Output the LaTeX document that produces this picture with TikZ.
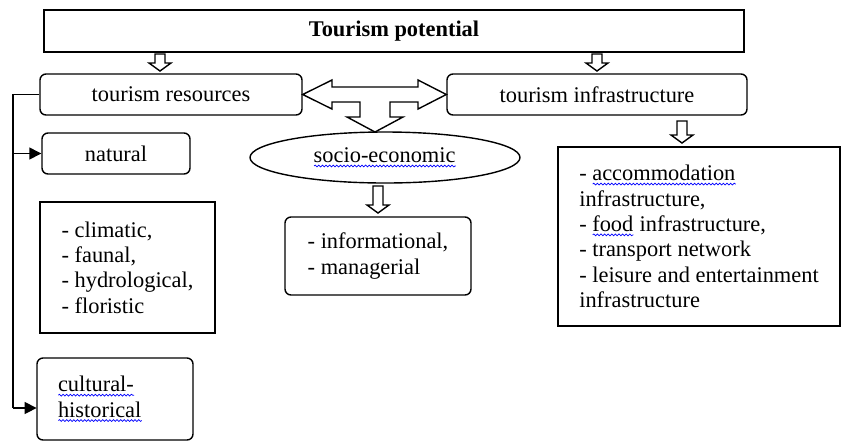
\documentclass[tikz,border=0pt]{standalone}
\usepackage{fontspec}
\setmainfont{Liberation Serif}
\usetikzlibrary{shapes.geometric,arrows.meta,decorations.pathmorphing}
\newlength\spellwd
\newcommand\spell[1]{\settowidth\spellwd{#1}\hbox{\rlap{#1}\tikz[baseline=0pt]
    \draw[blue,line width=0.35pt,sharp corners,decorate,decoration={snake,amplitude=0.45pt,segment length=1.8pt}]
        (0pt,-1.7pt) -- (\spellwd,-1.7pt);}}

\begin{document}
\begin{tikzpicture}[x=0.5pt,y=-0.5pt,line width=0.7pt,
    every node/.style={font=\fontsize{11.2}{12.7}\selectfont},
    box/.style={draw, inner sep=0pt},
    rbox/.style={draw, rounded corners=3pt, inner sep=0pt},
    hollow/.style={draw, fill=white},
    link/.style={-{Triangle[length=6pt,width=6pt]}},
    pics/hollowdown/.style={code={
        \draw[hollow] (-5,0) -- (5,0) -- (5,#1-8) -- (11,#1-8) -- (0,#1)
            -- (-11,#1-8) -- (-5,#1-8) -- cycle;}}]
  \useasboundingbox (0,0) rectangle (841,441);
  % top level
  \node[box, minimum width=350pt, minimum height=21pt,
        font=\bfseries\fontsize{11.2}{12.7}\selectfont] (potential) at (394,31) {Tourism potential};
  \node[rbox, minimum width=131pt, minimum height=20.5pt] (resources) at (171,94.5) {tourism resources};
  \node[rbox, minimum width=150pt, minimum height=20.5pt] (infra) at (597,94.5) {tourism infrastructure};
  \pic at (160,54) {hollowdown=17};
  \pic at (597,54) {hollowdown=17};
  % resources side
  \node[rbox, minimum width=74pt, minimum height=20.5pt] (natural) at (116,153.5) {natural};
  \node[box, minimum width=87.5pt, minimum height=65.5pt, align=left] (kinds) at (127.5,267.5)
        {- climatic,\\- faunal,\\- hydrological,\\- floristic};
  \node[rbox, minimum height=41pt, text width=57pt, inner xsep=10.5pt, align=left] (cultural) at (115,399)
        {\spell{cultural-}\\\spell{historical}};
  \coordinate (spine) at (13,408);
  \draw (resources.west) -| (spine);
  \draw[link] (natural.west -| spine) -- (natural.west);
  \draw[link] (spine) -- (spine -| cultural.west);
  % socio-economic
  \node[ellipse, draw, minimum width=135pt, minimum height=25.5pt, inner sep=0pt] (socio) at (385,157.5)
        {\spell{socio-economic}};
  \node[rbox, minimum width=93pt, minimum height=39pt, align=left] (info) at (378,256)
        {- informational,\\- managerial};
  \draw[hollow] (resources.east) -- (332,80) -- (332,87) -- (418,87) -- (418,80) -- (infra.west)
        -- (418,109) -- (418,102) -- (390,102) -- (390,117) -- (403,117) -- (375,132)
        -- (347,117) -- (360,117) -- (360,102) -- (332,102) -- (332,109) -- cycle;
  \pic at (378,186) {hollowdown=27};
  % infrastructure side
  \node[box, minimum width=141pt, minimum height=89.5pt, align=left] (facilities) at (699,236.5)
        {- \spell{accommodation}\\infrastructure,\\- \spell{food} infrastructure,\\- transport network\\- leisure and entertainment\\infrastructure};
  \pic at (682,121) {hollowdown=22};
\end{tikzpicture}
\end{document}
